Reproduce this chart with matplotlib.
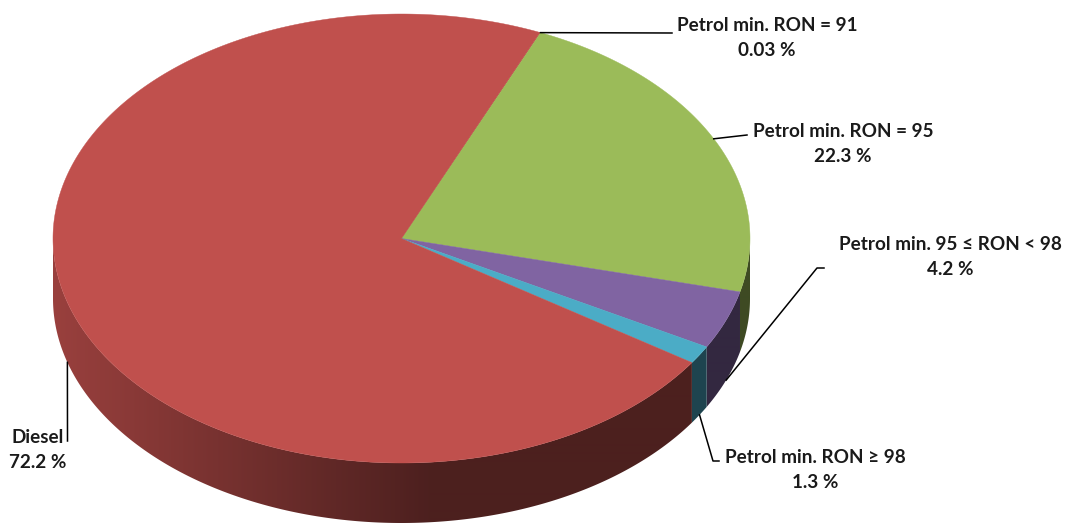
import numpy as np
import matplotlib
matplotlib.use('Agg')
import matplotlib.pyplot as plt
from matplotlib.patches import Polygon

# Data
labels = ['Petrol min. RON = 91', 'Petrol min. RON = 95',
          'Petrol min. 95 \u2264 RON < 98', 'Petrol min. RON \u2265 98', 'Diesel']
shares = [0.03, 22.3, 4.2, 1.3, 72.2]
value_text = ['0.03 %', '22.3 %', '4.2 %', '1.3 %', '72.2 %']
colors = ['#C0504D', '#9BBB59', '#8064A2', '#4BACC6', '#C0504D']

# Pie geometry (pixel units)
cx, cy = 401.5, 238.5
rx, ry = 348.5, 224.5
depth = 60
start = 23.4  # degrees, clockwise from 12 o'clock

# Label layout: text centre, leader line elbow points (after the anchor)
label_pos = [(767, 38), (843, 144), (950, 257), (815, 470), (38, 450)]
leader_pts = [[(672, 33)], [(747, 135)], [(817, 268), (824, 268)],
              [(713, 461), (719, 461)], [(67.5, 441)]]

W, H = 1066, 525


def edge(theta_deg):
    t = np.radians(theta_deg)
    return cx + rx * np.sin(t), cy - ry * np.cos(t)


def shade(x):
    # side wall gets darker from left to right
    return 0.80 - 0.40 * np.clip((x - 53) / (430 - 53), 0, 1)


fig = plt.figure(figsize=(10.66, 5.25), dpi=100)
ax = fig.add_axes([0, 0, 1, 1])
ax.axis('off')

fracs = np.array(shares) / sum(shares)
bounds = start + np.concatenate([[0], np.cumsum(fracs) * 360])

xcols = np.arange(W) + 0.5

# side walls (visible front half: 90..270 deg), gradient clipped to polygon
for i, c in enumerate(colors):
    a0, a1 = bounds[i], bounds[i + 1]
    lo, hi = max(a0, 90), min(a1, 270)
    if hi <= lo:
        continue
    ts = np.linspace(lo, hi, max(int((hi - lo) * 3), 2))
    top = [edge(t) for t in ts]
    bot = [(x, y + depth) for x, y in top[::-1]]
    poly = Polygon(top + bot, closed=True, facecolor='none', edgecolor='none')
    ax.add_patch(poly)
    rgb = np.array(matplotlib.colors.to_rgb(c))
    img = np.clip(rgb[None, None, :] * shade(xcols)[None, :, None], 0, 1)
    im = ax.imshow(img, extent=[0, W, H, 0], aspect='auto', interpolation='bilinear', zorder=1)
    im.set_clip_path(poly)

# top faces
for i, c in enumerate(colors):
    a0, a1 = bounds[i], bounds[i + 1]
    ts = np.linspace(a0, a1, max(int((a1 - a0) * 3), 2))
    pts = [(cx, cy)] + [edge(t) for t in ts]
    ax.add_patch(Polygon(pts, closed=True, facecolor=c, edgecolor=c, lw=0.3, zorder=2))

# labels and leader lines
for i, lab in enumerate(labels):
    mid = (bounds[i] + bounds[i + 1]) / 2
    if i == 0:
        mid = bounds[i + 1]
    ax_, ay_ = edge(mid)
    if np.cos(np.radians(mid)) < 0:
        ay_ += depth
    xs = [ax_] + [p[0] for p in leader_pts[i]]
    ys = [ay_] + [p[1] for p in leader_pts[i]]
    ax.plot(xs, ys, color='black', lw=1.1, zorder=3)
    tx, ty = label_pos[i]
    ax.text(tx, ty, lab + '\n' + value_text[i], ha='center', va='center',
            multialignment='center', fontsize=13.6, fontweight='bold',
            family=['Lato', 'DejaVu Sans'], color='#1a1a1a', linespacing=1.55, zorder=4)

ax.set_xlim(0, W)
ax.set_ylim(H, 0)

fig.savefig('out.png', dpi=100)
